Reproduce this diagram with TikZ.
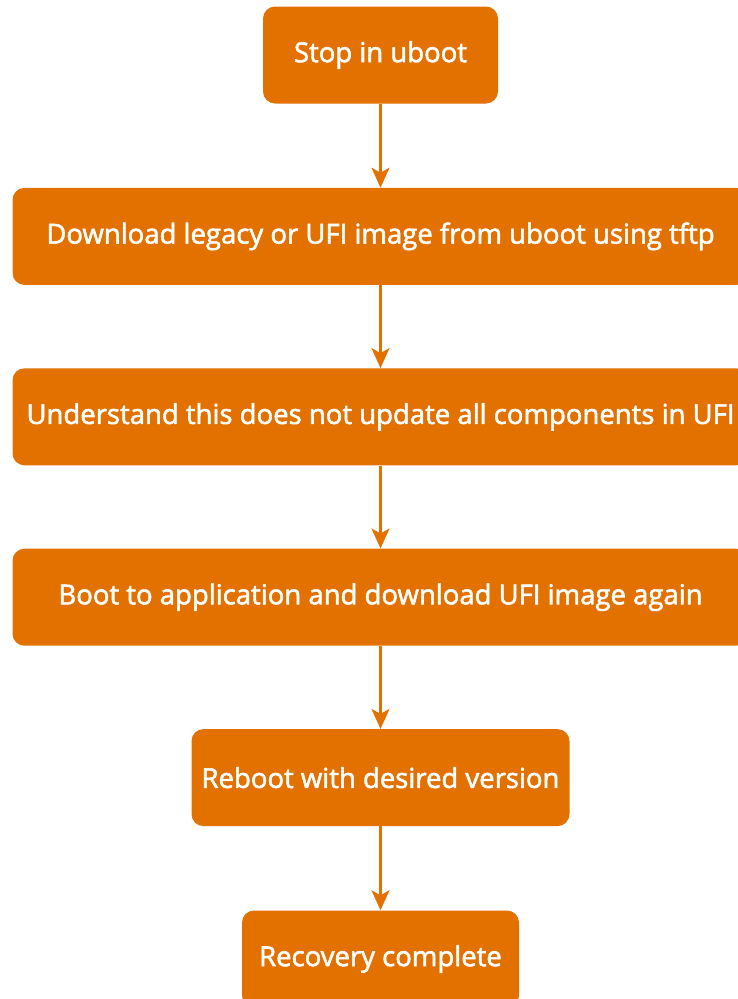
\documentclass[tikz,border=0pt]{standalone}
\usepackage{fontspec}
\setmainfont{Open Sans}
\newfontfamily\boxfont{Open Sans}[FakeBold=2]
\usepackage{tikz}
\usetikzlibrary{positioning,arrows.meta}
\definecolor{boxorange}{rgb}{0.886,0.443,0.0}

\begin{document}
\begin{tikzpicture}[x=1pt,y=1pt,yscale=-1,xscale=1,
  stepbox/.style={fill=boxorange, draw=none, rounded corners=12pt, text=white,
    minimum height=97pt, inner sep=0pt, font=\boxfont\fontsize{27.5}{32}\selectfont},
  flowarrow/.style={draw=boxorange, line width=2.2pt,
    -{Stealth[length=20pt,width=18pt,inset=5pt]}}]
%set diagram to the 738 x 999 frame
\useasboundingbox (0,0) rectangle (738,999);
\clip (0,0) rectangle (738,999);

%Shape: Rounded boxes
\node [stepbox, minimum width=235pt] (stop) at (380.5,55) {Stop in uboot};
\node [stepbox, minimum width=736pt, below=84pt of stop] (download) {Download legacy or UFI image from uboot using tftp};
\node [stepbox, minimum width=736pt, below=83pt of download] (understand) {Understand this does not update all components in UFI};
\node [stepbox, minimum width=736pt, below=83pt of understand] (bootapp) {Boot to application and download UFI image again};
\node [stepbox, minimum width=378pt, below=83pt of bootapp] (reboot) {Reboot with desired version};
\node [stepbox, minimum width=277pt, below=84pt of reboot] (recovery) {Recovery complete};

%Arrows
\draw [flowarrow] (stop) -- (download);
\draw [flowarrow] (download) -- (understand);
\draw [flowarrow] (understand) -- (bootapp);
\draw [flowarrow] (bootapp) -- (reboot);
\draw [flowarrow] (reboot) -- (recovery);

\end{tikzpicture}
\end{document}
